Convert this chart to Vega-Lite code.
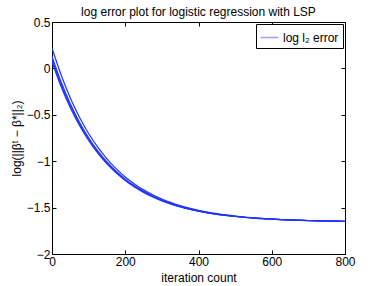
{
  "$schema": "https://vega.github.io/schema/vega-lite/v6.json",
  "width": 293,
  "height": 232,
  "autosize": {"type": "none"},
  "padding": {"left": 52, "top": 22, "right": 37, "bottom": 32},
  "background": "white",
  "config": {
    "font": "Liberation Sans",
    "view": {"stroke": "#000", "strokeWidth": 1},
    "axis": {"grid": false, "domainColor": "#000", "tickColor": "#000", "labelColor": "#000", "titleColor": "#000", "labelFontSize": 12, "titleFontSize": 12, "titleFontWeight": "normal"}
  },
  "title": {"text": "log error plot for logistic regression with LSP", "fontSize": 12, "fontWeight": "normal", "color": "#000", "offset": -3},
  "data": {"values": [
    {"it": 0, "r1": 0.220, "r2": 0.130, "r3": 0.100, "r4": 0.070},
    {"it": 25, "r1": -0.071, "r2": -0.147, "r3": -0.173, "r4": -0.198},
    {"it": 50, "r1": -0.318, "r2": -0.382, "r3": -0.403, "r4": -0.425},
    {"it": 75, "r1": -0.526, "r2": -0.580, "r3": -0.598, "r4": -0.616},
    {"it": 100, "r1": -0.701, "r2": -0.747, "r3": -0.762, "r4": -0.777},
    {"it": 125, "r1": -0.849, "r2": -0.888, "r3": -0.901, "r4": -0.914},
    {"it": 150, "r1": -0.974, "r2": -1.007, "r3": -1.018, "r4": -1.029},
    {"it": 175, "r1": -1.080, "r2": -1.108, "r3": -1.117, "r4": -1.126},
    {"it": 200, "r1": -1.170, "r2": -1.193, "r3": -1.201, "r4": -1.208},
    {"it": 225, "r1": -1.245, "r2": -1.265, "r3": -1.271, "r4": -1.278},
    {"it": 250, "r1": -1.309, "r2": -1.325, "r3": -1.331, "r4": -1.336},
    {"it": 275, "r1": -1.363, "r2": -1.377, "r3": -1.381, "r4": -1.386},
    {"it": 300, "r1": -1.408, "r2": -1.420, "r3": -1.424, "r4": -1.428},
    {"it": 325, "r1": -1.446, "r2": -1.456, "r3": -1.460, "r4": -1.463},
    {"it": 350, "r1": -1.479, "r2": -1.487, "r3": -1.490, "r4": -1.493},
    {"it": 375, "r1": -1.506, "r2": -1.513, "r3": -1.516, "r4": -1.518},
    {"it": 400, "r1": -1.529, "r2": -1.535, "r3": -1.537, "r4": -1.539},
    {"it": 425, "r1": -1.549, "r2": -1.554, "r3": -1.556, "r4": -1.557},
    {"it": 450, "r1": -1.565, "r2": -1.570, "r3": -1.571, "r4": -1.573},
    {"it": 475, "r1": -1.579, "r2": -1.583, "r3": -1.584, "r4": -1.585},
    {"it": 500, "r1": -1.591, "r2": -1.594, "r3": -1.595, "r4": -1.596},
    {"it": 525, "r1": -1.601, "r2": -1.604, "r3": -1.604, "r4": -1.605},
    {"it": 550, "r1": -1.609, "r2": -1.612, "r3": -1.612, "r4": -1.613},
    {"it": 575, "r1": -1.617, "r2": -1.618, "r3": -1.619, "r4": -1.620},
    {"it": 600, "r1": -1.622, "r2": -1.624, "r3": -1.624, "r4": -1.625},
    {"it": 625, "r1": -1.628, "r2": -1.629, "r3": -1.629, "r4": -1.630},
    {"it": 650, "r1": -1.632, "r2": -1.633, "r3": -1.633, "r4": -1.634},
    {"it": 675, "r1": -1.635, "r2": -1.636, "r3": -1.637, "r4": -1.637},
    {"it": 700, "r1": -1.639, "r2": -1.639, "r3": -1.640, "r4": -1.640},
    {"it": 725, "r1": -1.641, "r2": -1.642, "r3": -1.642, "r4": -1.642},
    {"it": 750, "r1": -1.643, "r2": -1.644, "r3": -1.644, "r4": -1.644},
    {"it": 775, "r1": -1.645, "r2": -1.646, "r3": -1.646, "r4": -1.646},
    {"it": 800, "r1": -1.647, "r2": -1.647, "r3": -1.647, "r4": -1.647}
  ]},
  "transform": [{"fold": ["r1", "r2", "r3", "r4"], "as": ["run", "err"]}],
  "layer": [
    {
      "mark": {"type": "line", "strokeWidth": 1.2, "interpolate": "monotone", "clip": true},
      "encoding": {
        "x": {"field": "it", "type": "quantitative", "scale": {"domain": [0, 800], "nice": false},
          "axis": {"values": [0, 200, 400, 600, 800], "title": "iteration count", "tickSize": -4, "labelPadding": 6, "titlePadding": 5, "labelFlush": false}},
        "y": {"field": "err", "type": "quantitative", "scale": {"domain": [-2, 0.5], "nice": false},
          "axis": {"values": [-2, -1.5, -1, -0.5, 0, 0.5], "format": "~g", "title": "log(||βᵗ − β*||₂)", "tickSize": -4, "labelPadding": 6, "titlePadding": 3, "labelFlush": false}},
        "detail": {"field": "run"},
        "color": {"datum": "log l₂ error", "type": "nominal", "scale": {"range": ["#1f35ff"]},
          "legend": {"title": null, "orient": "top-right", "offset": 2, "strokeColor": "#000", "fillColor": "#fff", "padding": 4, "symbolType": "stroke", "symbolSize": 300, "symbolOpacity": 0.45, "symbolStrokeWidth": 1.5, "labelFontSize": 12, "labelColor": "#000", "cornerRadius": 0}}
      }
    },
    {
      "mark": {"type": "line", "opacity": 0},
      "encoding": {
        "x": {"field": "it", "type": "quantitative", "scale": {"domain": [0, 800], "nice": false},
          "axis": {"orient": "top", "values": [0, 200, 400, 600, 800], "title": null, "labels": false, "tickSize": -4}},
        "y": {"field": "err", "type": "quantitative", "scale": {"domain": [-2, 0.5], "nice": false},
          "axis": {"orient": "right", "values": [-2, -1.5, -1, -0.5, 0, 0.5], "title": null, "labels": false, "tickSize": -4}},
        "detail": {"field": "run"}
      }
    }
  ],
  "resolve": {"axis": {"x": "independent", "y": "independent"}}
}
